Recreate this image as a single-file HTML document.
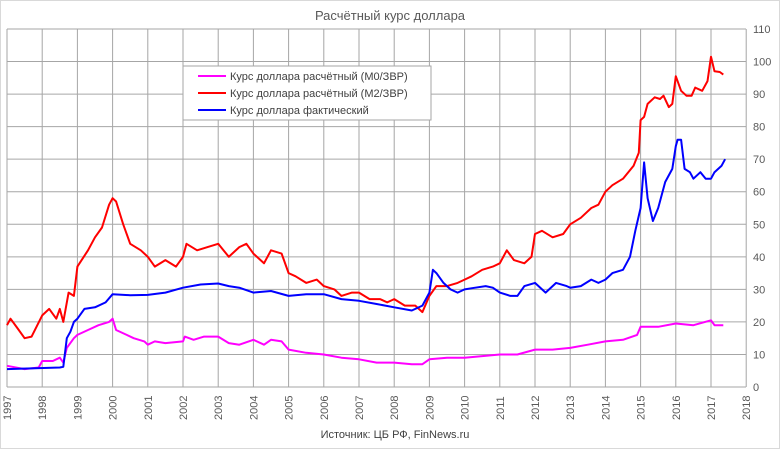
<!DOCTYPE html>
<html><head><meta charset="utf-8"><style>
html,body{margin:0;padding:0;background:#fff}
svg{display:block;font-family:"Liberation Sans",sans-serif}
</style></head><body>
<svg id="s" width="780" height="449" xmlns="http://www.w3.org/2000/svg">
<rect x="0.5" y="0.5" width="779" height="448" fill="#fff" stroke="#d9d9d9"/>
<text x="390" y="20" font-size="13" text-anchor="middle" fill="#595959">Расчётный курс доллара</text>
<g id="grid" stroke="#a6a6a6" stroke-width="1"></g>
<g id="ylab" font-size="11" fill="#595959"></g>
<g id="xlab" font-size="11" fill="#595959"></g>
<g id="series" fill="none" stroke-width="2" stroke-linejoin="round"></g>
<rect x="183" y="66" width="248" height="54" fill="#fff" stroke="#a6a6a6"/>
<line x1="198" y1="76" x2="226" y2="76" stroke="#ff00ff" stroke-width="2"/>
<line x1="198" y1="93" x2="226" y2="93" stroke="#ff0000" stroke-width="2"/>
<line x1="198" y1="110" x2="226" y2="110" stroke="#0000ff" stroke-width="2"/>
<text x="230" y="80" font-size="11" fill="#404040">Курс доллара расчётный (M0/ЗВР)</text>
<text x="230" y="97" font-size="11" fill="#404040">Курс доллара расчётный (M2/ЗВР)</text>
<text x="230" y="114" font-size="11" fill="#404040">Курс доллара фактический</text>
<text x="395" y="438" font-size="11" text-anchor="middle" fill="#404040">Источник: ЦБ РФ, FinNews.ru</text>
</svg>
<script>
var X=function(y){return 7+(y-1997)*35.2},Y=function(v){return 387-v*3.2545};
var ns="http://www.w3.org/2000/svg";
function el(p,t,a,txt){var e=document.createElementNS(ns,t);for(var k in a)e.setAttribute(k,a[k]);if(txt!=null)e.textContent=txt;document.getElementById(p).appendChild(e);}
for(var v=0;v<=110;v+=10){el("grid","line",{x1:7,x2:746,y1:Y(v),y2:Y(v)});el("ylab","text",{x:753,y:Y(v)+4},v);}
for(var y=1997;y<=2018;y++){el("grid","line",{x1:X(y),x2:X(y),y1:Y(110),y2:Y(0)});el("xlab","text",{x:0,y:0,transform:"translate("+(X(y)+4)+",420) rotate(-90)"},y);}
var M0=[1997,6.5,1997.5,5.5,1997.9,6,1998,8,1998.3,8,1998.5,9,1998.6,7.5,1998.7,12,1998.9,15,1999,16,1999.3,17.5,1999.6,19,1999.9,20,2000,21,2000.1,17.5,2000.4,16,2000.6,15,2000.9,14,2001,13,2001.2,14,2001.5,13.5,2002,14,2002.05,15.5,2002.3,14.5,2002.6,15.5,2003,15.5,2003.3,13.5,2003.6,13,2004,14.5,2004.3,13,2004.5,14.5,2004.8,14,2005,11.5,2005.5,10.5,2006,10,2006.5,9,2007,8.5,2007.5,7.5,2008,7.5,2008.5,7,2008.8,7,2009,8.5,2009.5,9,2010,9,2010.5,9.5,2011,10,2011.5,10,2012,11.5,2012.5,11.5,2013,12,2013.5,13,2014,14,2014.5,14.5,2014.9,16,2015,18.5,2015.5,18.5,2016,19.5,2016.5,19,2017,20.5,2017.1,19,2017.35,19];
var M2=[1997,19,1997.1,21,1997.3,18,1997.5,15,1997.7,15.5,1998,22,1998.2,24,1998.4,21,1998.5,24,1998.6,20,1998.75,29,1998.9,28,1999,37,1999.3,42,1999.5,46,1999.7,49,1999.9,56,2000,58,2000.1,57,2000.3,50,2000.5,44,2000.8,42,2001,40,2001.2,37,2001.5,39,2001.8,37,2002,40,2002.1,44,2002.4,42,2002.7,43,2003,44,2003.3,40,2003.6,43,2003.8,44,2004,41,2004.3,38,2004.5,42,2004.8,41,2005,35,2005.2,34,2005.5,32,2005.8,33,2006,31,2006.3,30,2006.5,28,2006.8,29,2007,29,2007.3,27,2007.6,27,2007.8,26,2008,27,2008.3,25,2008.6,25,2008.8,23,2009,28,2009.2,31,2009.5,31,2009.8,32,2010,33,2010.2,34,2010.5,36,2010.8,37,2011,38,2011.2,42,2011.4,39,2011.7,38,2011.9,40,2012,47,2012.2,48,2012.5,46,2012.8,47,2013,50,2013.3,52,2013.6,55,2013.8,56,2014,60,2014.2,62,2014.5,64,2014.8,68,2014.95,72,2015,82,2015.1,83,2015.2,87,2015.4,89,2015.55,88.5,2015.65,89.5,2015.8,86,2015.9,87,2016,95.5,2016.15,91,2016.3,89.5,2016.45,89.5,2016.55,92,2016.75,91,2016.9,94,2017,101.5,2017.1,97,2017.25,96.8,2017.35,96];
var F=[1997,5.5,1998.5,6,1998.6,6.2,1998.7,15,1998.8,17,1998.9,20,1999,21,1999.2,24,1999.5,24.5,1999.8,26,2000,28.5,2000.5,28.2,2001,28.3,2001.5,29,2002,30.5,2002.5,31.5,2003,31.8,2003.3,31,2003.6,30.5,2004,29,2004.5,29.5,2005,28,2005.5,28.5,2006,28.5,2006.5,27,2007,26.5,2007.5,25.5,2008,24.5,2008.5,23.5,2008.8,25,2009,29,2009.1,36,2009.2,35,2009.4,32,2009.6,30,2009.8,29,2010,30,2010.3,30.5,2010.6,31,2010.8,30.5,2011,29,2011.3,28,2011.5,28,2011.7,31,2012,32,2012.3,29,2012.6,32,2012.9,31,2013,30.5,2013.3,31,2013.6,33,2013.8,32,2014,33,2014.2,35,2014.5,36,2014.7,40,2014.85,48,2015,55,2015.1,69,2015.2,58,2015.35,51,2015.5,55,2015.7,63,2015.9,67,2016,74,2016.05,76,2016.15,76,2016.25,67,2016.4,66,2016.5,64,2016.7,66,2016.85,64,2017,64,2017.1,66,2017.3,68,2017.4,70];
function pl(d,c){var p=[];for(var i=0;i<d.length;i+=2)p.push(X(d[i]).toFixed(1)+","+Y(d[i+1]).toFixed(1));el("series","polyline",{points:p.join(" "),stroke:c});}
pl(M0,"#ff00ff");pl(M2,"#ff0000");pl(F,"#0000ff");
</script>
</body></html>
